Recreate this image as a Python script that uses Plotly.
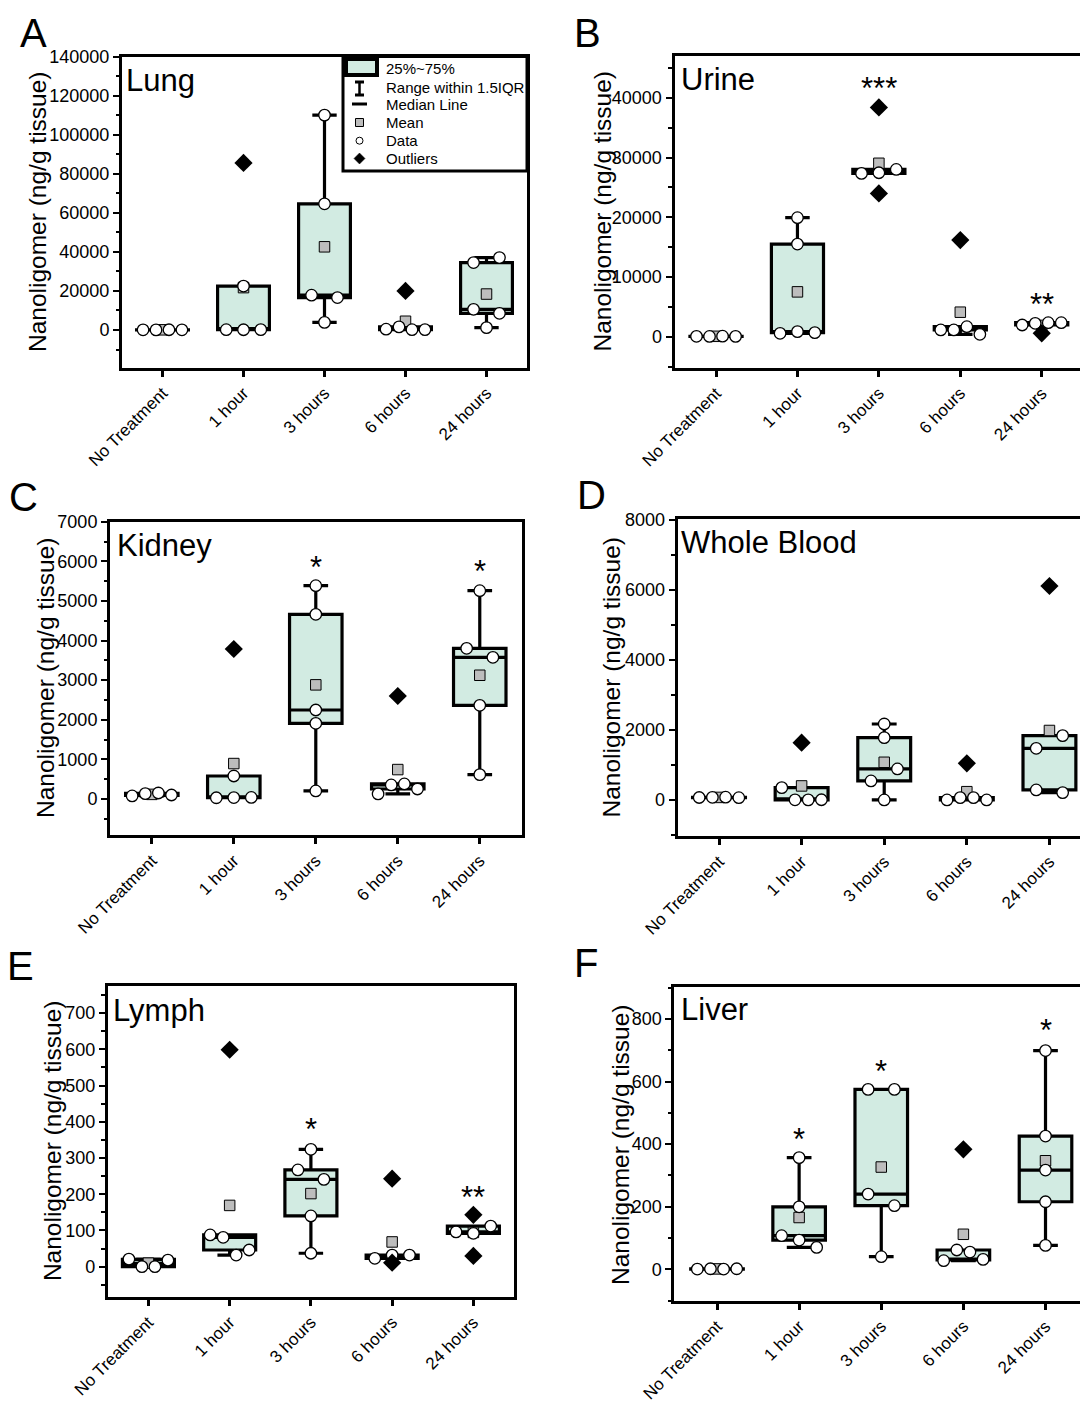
import plotly.graph_objects as go
import numpy as np

W, H = 1080, 1402
CATEGORIES = ["No Treatment", "1 hour", "3 hours", "6 hours", "24 hours"]

# ---------------- data (ng/g tissue) ----------------
# Lung
LUNG_POINTS = [[100, 60, 120, 80], [150, 120, 180, 22500], [110000, 64600, 17800, 16600, 3900],
               [400, 1600, 150, 200], [34530, 37090, 10600, 8550, 1200]]
LUNG_OUTLIERS = [[], [85500], [], [20000], []]
LUNG_Q1 = [70, 150, 16600, 200, 8550]
LUNG_MEDIAN = [90, 180, 17800, 400, 10600]
LUNG_Q3 = [110, 22500, 64600, 1600, 34530]
LUNG_LOW = [60, 120, 3900, 150, 1200]
LUNG_HIGH = [120, 22500, 110000, 1600, 37090]
LUNG_STARS = ["", "", "", "", ""]
LUNG_STAR_Y = [None, None, None, None, None]

# Urine
URINE_POINTS = [[60, 40, 80, 50], [560, 840, 670, 15510, 19920], [27340, 27450, 28000],
                [1120, 1120, 1670, 390], [1950, 2230, 2340, 2340]]
URINE_OUTLIERS = [[], [], [38380, 23990], [16180], [560]]
URINE_Q1 = [45, 670, 27340, 1120, 1950]
URINE_MEDIAN = [55, 840, 27450, 1120, 2230]
URINE_Q3 = [70, 15510, 28000, 1670, 2340]
URINE_LOW = [40, 560, 27340, 390, 1950]
URINE_HIGH = [80, 19920, 28000, 1670, 2340]
URINE_STARS = ["", "", "***", "", "**"]
URINE_STAR_Y = [None, None, 42700, None, 6560]

# Kidney
KIDNEY_POINTS = [[76, 135, 151, 100], [580, 30, 35, 38], [5385, 4661, 2246, 1910, 202],
                 [126, 353, 379, 252], [3803, 3576, 5258, 2364, 614]]
KIDNEY_OUTLIERS = [[], [3786], [], [2600], []]
KIDNEY_Q1 = [88, 30, 1910, 252, 2364]
KIDNEY_MEDIAN = [117, 35, 2246, 353, 3576]
KIDNEY_Q3 = [143, 580, 4661, 379, 3803]
KIDNEY_LOW = [76, 30, 202, 126, 614]
KIDNEY_HIGH = [151, 580, 5385, 379, 5258]
KIDNEY_STARS = ["", "", "*", "", "*"]
KIDNEY_STAR_Y = [None, None, 6020, None, 5910]

# Whole Blood
BLOOD_POINTS = [[70, 75, 80, 65], [352, 5, 3, 6], [2171, 1781, 543, 886, 0],
                [0, 67, 67, 0], [1476, 1838, 286, 210]]
BLOOD_OUTLIERS = [[], [1638], [], [1048], [6114]]
BLOOD_Q1 = [67, 5, 543, 0, 286]
BLOOD_MEDIAN = [72, 6, 886, 67, 1476]
BLOOD_Q3 = [78, 352, 1781, 67, 1838]
BLOOD_LOW = [65, 3, 0, 0, 210]
BLOOD_HIGH = [80, 352, 2171, 67, 1838]
BLOOD_STARS = ["", "", "", "", ""]
BLOOD_STAR_Y = [None, None, None, None, None]

# Lymph
LYMPH_POINTS = [[21, 0, 0, 18], [87.5, 81, 32, 46], [324, 267, 241, 140, 37],
                [23, 32, 32], [96, 92, 112]]
LYMPH_OUTLIERS = [[], [599], [], [243, 11], [143, 29.5]]
LYMPH_Q1 = [0, 46, 140, 23, 92]
LYMPH_MEDIAN = [9, 81, 241, 32, 96]
LYMPH_Q3 = [20, 87.5, 267, 32, 112]
LYMPH_LOW = [0, 32, 37, 23, 92]
LYMPH_HIGH = [21, 87.5, 324, 32, 112]
LYMPH_STARS = ["", "", "*", "", "**"]
LYMPH_STAR_Y = [None, None, 397, None, 210]

# Liver
LIVER_POINTS = [[1, 2, 1, 2], [357, 200, 107.6, 93.7, 70.3], [575, 575, 240.7, 203.5, 40.5],
                [27.7, 62, 55.4, 32], [699, 426, 317.4, 216, 76.7]]
LIVER_OUTLIERS = [[], [], [], [383.5], []]
LIVER_Q1 = [1, 93.7, 203.5, 30, 216]
LIVER_MEDIAN = [1.5, 107.6, 240.7, 32, 317.4]
LIVER_Q3 = [2, 200, 575, 62, 426]
LIVER_LOW = [1, 70.3, 40.5, 27.7, 76.7]
LIVER_HIGH = [2, 357, 575, 62, 699]
LIVER_STARS = ["", "*", "*", "", "*"]
LIVER_STAR_Y = [None, 437, 654, None, 785]

# ---------------- styling / layout ----------------
FONT = "Liberation Sans, Arial, sans-serif"
FILL = "#d2ebe2"
MEAN_GRAY = "#bdbdbd"
BOX_WIDTH = 0.64
SPREAD = 0.64
Y_TITLE = "Nanoligomer (ng/g tissue)"

PANELS = [
    dict(letter="A", title="Lung", pts=LUNG_POINTS, out=LUNG_OUTLIERS, q1=LUNG_Q1, med=LUNG_MEDIAN,
         q3=LUNG_Q3, lo=LUNG_LOW, hi=LUNG_HIGH, stars=LUNG_STARS, star_y=LUNG_STAR_Y,
         box=(122, 56.5, 527, 367.5), xr=[-0.5, 4.5], yr=[-19200, 140000], dtick=20000, minor=10000,
         closed=True, letter_xy=(33.5, 33), title_xy=(124, 80.3), ylab_xy=(37, 212)),
    dict(letter="B", title="Urine", pts=URINE_POINTS, out=URINE_OUTLIERS, q1=URINE_Q1, med=URINE_MEDIAN,
         q3=URINE_Q3, lo=URINE_LOW, hi=URINE_HIGH, stars=URINE_STARS, star_y=URINE_STAR_Y,
         box=(674.5, 56, 1080, 367.7), xr=[-0.51, 4.47], yr=[-5200, 47000], dtick=10000, minor=5000,
         closed=False, letter_xy=(587, 33), title_xy=(678.5, 79.7), ylab_xy=(602, 211.5)),
    dict(letter="C", title="Kidney", pts=KIDNEY_POINTS, out=KIDNEY_OUTLIERS, q1=KIDNEY_Q1, med=KIDNEY_MEDIAN,
         q3=KIDNEY_Q3, lo=KIDNEY_LOW, hi=KIDNEY_HIGH, stars=KIDNEY_STARS, star_y=KIDNEY_STAR_Y,
         box=(110, 521.7, 522.4, 835), xr=[-0.51, 4.52], yr=[-910, 7000], dtick=1000, minor=500,
         closed=True, letter_xy=(23.3, 496.7), title_xy=(114.5, 545), ylab_xy=(45, 678)),
    dict(letter="D", title="Whole Blood", pts=BLOOD_POINTS, out=BLOOD_OUTLIERS, q1=BLOOD_Q1, med=BLOOD_MEDIAN,
         q3=BLOOD_Q3, lo=BLOOD_LOW, hi=BLOOD_HIGH, stars=BLOOD_STARS, star_y=BLOOD_STAR_Y,
         box=(677.7, 519.3, 1080, 836), xr=[-0.5, 4.37], yr=[-1030, 8020], dtick=2000, minor=1000,
         closed=False, letter_xy=(591, 495), title_xy=(678.5, 542.8), ylab_xy=(611, 677.5)),
    dict(letter="E", title="Lymph", pts=LYMPH_POINTS, out=LYMPH_OUTLIERS, q1=LYMPH_Q1, med=LYMPH_MEDIAN,
         q3=LYMPH_Q3, lo=LYMPH_LOW, hi=LYMPH_HIGH, stars=LYMPH_STARS, star_y=LYMPH_STAR_Y,
         box=(107.8, 986, 514, 1296.7), xr=[-0.5, 4.5], yr=[-83, 775], dtick=100, minor=50,
         closed=True, letter_xy=(20, 966), title_xy=(111, 1010), ylab_xy=(52.5, 1140.6)),
    dict(letter="F", title="Liver", pts=LIVER_POINTS, out=LIVER_OUTLIERS, q1=LIVER_Q1, med=LIVER_MEDIAN,
         q3=LIVER_Q3, lo=LIVER_LOW, hi=LIVER_HIGH, stars=LIVER_STARS, star_y=LIVER_STAR_Y,
         box=(674.3, 986.7, 1080, 1300.7), xr=[-0.52, 4.42], yr=[-100, 903], dtick=200, minor=100,
         closed=False, letter_xy=(585.5, 963), title_xy=(678.5, 1009.7), ylab_xy=(620, 1145)),
]


def PX(x):
    return x / W


def PY(y):
    return 1 - y / H


def swarm_offsets(vals, px_per_unit, thresh=13.0, spread=SPREAD):
    """Spread overlapping points horizontally (simple bin-swarm)."""
    n = len(vals)
    order = sorted(range(n), key=lambda i: vals[i])
    clusters = []
    for i in order:
        if clusters and (vals[i] - vals[clusters[-1][-1]]) * px_per_unit < thresh:
            clusters[-1].append(i)
        else:
            clusters.append([i])
    off = [0.0] * n
    for c in clusters:
        c = sorted(c)
        k = len(c)
        for j, i in enumerate(c):
            off[i] = (j - (k - 1) / 2) * spread / k
    return off


fig = go.Figure()
layout = dict(width=W, height=H, margin=dict(l=0, r=0, t=0, b=0, pad=0, autoexpand=False),
              paper_bgcolor="white", plot_bgcolor="white", showlegend=False, hovermode=False,
              font=dict(family=FONT, color="black"))
annotations = []
shapes = []

for k, p in enumerate(PANELS):
    sfx = "" if k == 0 else str(k + 1)
    xa, ya = "x" + sfx, "y" + sfx
    l, t, r, b = p["box"]
    idx = list(range(len(CATEGORIES)))

    layout["xaxis" + sfx] = dict(
        domain=[PX(l), PX(r)], anchor=ya, range=p["xr"], tickmode="array", tickvals=idx,
        ticktext=CATEGORIES, tickangle=-45, tickfont=dict(size=17, family=FONT, color="black"),
        ticks="outside", ticklen=6, tickwidth=3, tickcolor="black", showline=True, linewidth=3,
        linecolor="black", mirror=True, showgrid=False, zeroline=False, fixedrange=True,
        automargin=False)
    layout["yaxis" + sfx] = dict(
        domain=[PY(b), PY(t)], anchor=xa, range=p["yr"], tick0=0, dtick=p["dtick"], tickformat="d",
        tickfont=dict(size=18, family=FONT, color="black"), ticks="outside", ticklen=6, tickwidth=2,
        tickcolor="black", showline=True, linewidth=3, linecolor="black",
        mirror=True if p["closed"] else False, showgrid=False, zeroline=False, fixedrange=True,
        automargin=False,
        minor=dict(dtick=p["minor"], tick0=0, ticks="outside", ticklen=3.5, tickwidth=2,
                   tickcolor="black", showgrid=False))

    # boxes
    fig.add_trace(go.Box(
        x=idx, q1=p["q1"], median=p["med"], q3=p["q3"], lowerfence=p["lo"], upperfence=p["hi"],
        width=BOX_WIDTH, whiskerwidth=0.47, fillcolor=FILL, line=dict(color="black", width=3.2),
        boxpoints=False, xaxis=xa, yaxis=ya, hoverinfo="skip"))

    # means
    means = [float(np.mean(list(pt) + list(o))) for pt, o in zip(p["pts"], p["out"])]
    fig.add_trace(go.Scatter(
        x=idx, y=means, mode="markers", xaxis=xa, yaxis=ya, hoverinfo="skip",
        marker=dict(symbol="square", size=10.5, color=MEAN_GRAY, line=dict(color="black", width=1))))

    # data points
    px_per_unit = (b - t) / (p["yr"][1] - p["yr"][0])
    dx, dy = [], []
    for i, vals in enumerate(p["pts"]):
        offs = swarm_offsets(vals, px_per_unit)
        dx += [i + o for o in offs]
        dy += list(vals)
    fig.add_trace(go.Scatter(
        x=dx, y=dy, mode="markers", xaxis=xa, yaxis=ya, hoverinfo="skip",
        marker=dict(symbol="circle", size=11.5, color="white", line=dict(color="black", width=1.3))))

    # outliers
    ox, oy = [], []
    for i, vals in enumerate(p["out"]):
        ox += [i] * len(vals)
        oy += list(vals)
    fig.add_trace(go.Scatter(
        x=ox, y=oy, mode="markers", xaxis=xa, yaxis=ya, hoverinfo="skip",
        marker=dict(symbol="diamond", size=14, color="black", line=dict(color="black", width=0))))

    # significance stars
    for i, (s, sy) in enumerate(zip(p["stars"], p["star_y"])):
        if s:
            annotations.append(dict(x=i, y=sy, xref=xa, yref=ya, text=s, showarrow=False,
                                    font=dict(size=31, family=FONT, color="black"),
                                    xanchor="center", yanchor="middle", yshift=-7))

    # panel letter, title, y label
    lx, ly = p["letter_xy"]
    annotations.append(dict(x=PX(lx), y=PY(ly), xref="paper", yref="paper", text=p["letter"],
                            showarrow=False, font=dict(size=40, family=FONT, color="black"),
                            xanchor="center", yanchor="middle"))
    tx, ty = p["title_xy"]
    annotations.append(dict(x=PX(tx), y=PY(ty), xref="paper", yref="paper", text=p["title"],
                            showarrow=False, font=dict(size=31, family=FONT, color="black"),
                            xanchor="left", yanchor="middle"))
    yx, yy = p["ylab_xy"]
    annotations.append(dict(x=PX(yx), y=PY(yy), xref="paper", yref="paper", text=Y_TITLE,
                            showarrow=False, textangle=-90,
                            font=dict(size=24.5, family=FONT, color="black"),
                            xanchor="center", yanchor="middle"))

# ---------------- legend (panel A) ----------------
shapes.append(dict(type="rect", xref="paper", yref="paper", x0=PX(343), x1=PX(527), y0=PY(171),
                   y1=PY(56.5), line=dict(color="black", width=3), fillcolor="white"))
shapes.append(dict(type="rect", xref="paper", yref="paper", x0=PX(346), x1=PX(377), y0=PY(75),
                   y1=PY(59), line=dict(color="black", width=4), fillcolor=FILL))
# I-beam
shapes.append(dict(type="line", xref="paper", yref="paper", x0=PX(359.5), x1=PX(359.5), y0=PY(82),
                   y1=PY(95), line=dict(color="black", width=2.5)))
for yy in (82, 95):
    shapes.append(dict(type="line", xref="paper", yref="paper", x0=PX(355), x1=PX(364), y0=PY(yy),
                       y1=PY(yy), line=dict(color="black", width=3)))
# median line
shapes.append(dict(type="line", xref="paper", yref="paper", x0=PX(352), x1=PX(367), y0=PY(104),
                   y1=PY(104), line=dict(color="black", width=3)))
# mean square
shapes.append(dict(type="rect", xref="paper", yref="paper", x0=PX(355.5), x1=PX(363.5), y0=PY(126.5),
                   y1=PY(118.5), line=dict(color="black", width=1), fillcolor=MEAN_GRAY))
# data circle
shapes.append(dict(type="circle", xref="paper", yref="paper", x0=PX(356), x1=PX(363), y0=PY(144.2),
                   y1=PY(137.2), line=dict(color="black", width=1), fillcolor="white"))
# outlier diamond
cx, cy, rr = 359.5, 158.5, 5.5
shapes.append(dict(type="path", xref="paper", yref="paper",
                   path=f"M {PX(cx)},{PY(cy - rr)} L {PX(cx + rr)},{PY(cy)} L {PX(cx)},{PY(cy + rr)} "
                        f"L {PX(cx - rr)},{PY(cy)} Z",
                   line=dict(color="black", width=0.5), fillcolor="black"))

LEGEND_TEXT = ["25%~75%", "Range within 1.5IQR", "Median Line", "Mean", "Data", "Outliers"]
LEGEND_Y = [68.5, 87.5, 104.5, 122.5, 140.5, 158.5]
for txt, yy in zip(LEGEND_TEXT, LEGEND_Y):
    annotations.append(dict(x=PX(383.5), y=PY(yy), xref="paper", yref="paper", text=txt,
                            showarrow=False, font=dict(size=15, family=FONT, color="black"),
                            xanchor="left", yanchor="middle"))

layout["annotations"] = annotations
layout["shapes"] = shapes
fig.update_layout(**layout)
fig.write_html("out.html")
